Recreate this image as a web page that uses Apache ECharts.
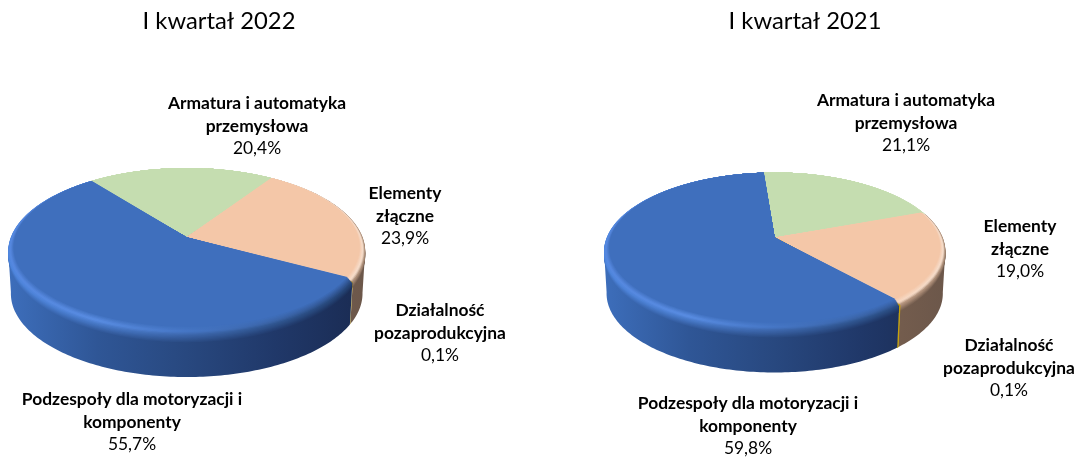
<!DOCTYPE html>
<html><head><meta charset="utf-8">
<style>html,body{margin:0;padding:0;background:#fff}#c{width:1080px;height:459px}</style>
<script src="https://cdn.jsdelivr.net/npm/echarts@6/dist/echarts.min.js"></script>
</head><body><div id="c"></div>
<script>
const categories = ['Armatura i automatyka\nprzemysłowa', 'Elementy\nzłączne', 'Działalność\npozaprodukcyjna', 'Podzespoły dla motoryzacji i\nkomponenty'];
const values2022 = [20.4, 23.9, 0.1, 55.7];
const values2021 = [21.1, 19.0, 0.1, 59.8];
const titles = ['I kwartał 2022', 'I kwartał 2021'];

const FONT = 'Lato, Carlito, sans-serif';
const LABEL_SIZE = 17.4;
const faceColors = ['#c5ddb0', '#f4c7a8', '#c9a400', '#3f6fbd'];
const crestStops = [
  ['#c9dfb5', '#c9dfb5', '#c9dfb5', '#c9dfb5', '#c9dfb5'],
  ['#f5d0b6', '#f5d0b6', '#f5d0b6', '#f6d4bc', '#f7e0cf'],
  ['#c9a400', '#c9a400', '#c9a400', '#c9a400', '#c9a400'],
  ['#5688e0', '#5a8ee4', '#4677c6', '#3b65a9', '#2c4e88']
];
const edgeStops = [
  ['#c5ddb0', '#c5ddb0', '#c5ddb0', '#c5ddb0', '#c5ddb0'],
  ['#e0b89c', '#e0b89c', '#d8b196', '#c4a08a', '#a88a74'],
  ['#c9a400', '#c9a400', '#c9a400', '#c9a400', '#c9a400'],
  ['#4f86de', '#4a7ccc', '#3d68ae', '#2f5590', '#22406f']
];
const sideStops = [
  ['#9db08a', '#9db08a', '#9db08a', '#9db08a', '#9db08a'],
  ['#8f7059', '#8f7059', '#8f7059', '#7a6150', '#6c574a'],
  ['#a58a10', '#a58a10', '#a58a10', '#a58a10', '#a58a10'],
  ['#3d6ebb', '#2f5696', '#28487f', '#203869', '#1a2b52']
];
const pies = [
  { values: values2022, cx: 186.7, top: 168, rx: 178.5, ry: 83.5, d: 0.17, start: -39, thick: 42, thin: 0,
    labels: [[257, 103], [405, 193], [440, 310], [132, 399]] },
  { values: values2021, cx: 774.7, top: 172.5, rx: 170.7, ry: 79, d: 0.177, start: -4.5, thick: 42, thin: 0.9,
    labels: [[906, 100], [1020, 226], [1009, 345], [748, 403]] }
];
const RING_STEPS = 14;
const CREST_T = 0.35;

function project(p, deg) {
  const a = deg * Math.PI / 180, u = Math.sin(a), v = -Math.cos(a);
  const den = 1 - p.d * v;
  return { x: u * Math.sqrt(1 - p.d * p.d) / den, y: (v - p.d) / den };
}
function rimPoint(p, deg, t) {
  const q = project(p, deg);
  return [p.cx + q.x * p.rx * (1 - 0.03 * Math.max(t, 0)), p.top + (q.y + 1) * p.ry * (1 - 0.05 * t)];
}
function lerpHex(a, b, t) {
  const pa = parseInt(a.slice(1), 16), pb = parseInt(b.slice(1), 16);
  const c = s => Math.round(((pa >> s) & 255) * (1 - t) + ((pb >> s) & 255) * t);
  const h = n => n.toString(16).padStart(2, '0');
  return '#' + h(c(16)) + h(c(8)) + h(c(0));
}
function grad(p, cols) {
  return { type: 'linear', global: true, x: p.cx - p.rx, y: 0, x2: p.cx + p.rx, y2: 0,
    colorStops: cols.map((c, i) => ({ offset: i / (cols.length - 1), color: c })) };
}
function ringColors(i, t) {
  return crestStops[i].map((crest, k) => {
    if (t < 0) return lerpHex(sideStops[i][k], edgeStops[i][k], t + 1);
    if (t < CREST_T) return lerpHex(edgeStops[i][k], crest, t / CREST_T);
    return lerpHex(crest, faceColors[i], (t - CREST_T) / (1 - CREST_T));
  });
}
function range(p, i) {
  const total = p.values.reduce((s, v) => s + v, 0);
  let acc = 0;
  for (let k = 0; k < i; k++) acc += p.values[k];
  return [p.start + acc / total * 360, p.start + (acc + p.values[i]) / total * 360];
}
function makeRender(p) {
  return function (params, api) {
    const i = params.dataIndex, val = api.value(0);
    const [a0, a1] = range(p, i);
    const angs = [];
    const n = Math.max(2, Math.ceil(a1 - a0));
    for (let k = 0; k <= n; k++) angs.push(a0 + (a1 - a0) * k / n);
    const kids = [];
    const isThin = a1 - a0 < 2;
    const thinStyle = isThin && p.thin ? { stroke: faceColors[i], lineWidth: p.thin } : {};
    const vis = angs.filter(a => project(p, a).y >= -0.02);
    if (vis.length > 1) {
      const upper = vis.map(a => rimPoint(p, a, 0));
      const lower = vis.map(a => {
        const q = project(p, a);
        return [p.cx + q.x * p.rx * 0.985, rimPoint(p, a, 0)[1] + p.thick];
      }).reverse();
      kids.push({ type: 'polygon', shape: { points: upper.concat(lower) },
        style: Object.assign({ fill: grad(p, sideStops[i]) }, thinStyle) });
    }
    const apex = [p.cx, p.top + (1 - p.d) * p.ry];
    if (isThin) {
      kids.push({ type: 'polygon', shape: { points: [apex].concat(angs.map(a => rimPoint(p, a, 0))) },
        style: Object.assign({ fill: faceColors[i] }, thinStyle) });
    } else {
      for (let s = 0; s <= RING_STEPS; s++) {
        const t = -1 + 2 * s / RING_STEPS;
        const pts = [apex].concat(angs.map(a => rimPoint(p, a, t)));
        kids.push({ type: 'polygon', shape: { points: pts },
          style: { fill: s === RING_STEPS ? faceColors[i] : grad(p, ringColors(i, t)) } });
      }
    }
    const lines = categories[i].split('\n');
    const [lx, ly] = p.labels[i];
    lines.forEach((ln, k) => kids.push({ type: 'text', z2: 50, style: {
      x: lx, y: ly + k * 23, text: ln, align: 'center', verticalAlign: 'middle',
      fontFamily: FONT, fontWeight: 'bold', fontSize: LABEL_SIZE, fill: '#000' } }));
    kids.push({ type: 'text', z2: 50, style: {
      x: lx, y: ly + lines.length * 22.7, text: val.toFixed(1).replace('.', ',') + '%',
      align: 'center', verticalAlign: 'middle', fontFamily: FONT, fontSize: LABEL_SIZE, fill: '#000' } });
    return { type: 'group', children: kids };
  };
}
const chart = echarts.init(document.getElementById('c'), null, { renderer: 'canvas' });
chart.setOption({
  animation: false,
  backgroundColor: '#fff',
  title: [
    { text: titles[0], left: 219, top: 21, padding: 0, textAlign: 'center', textVerticalAlign: 'middle',
      textStyle: { fontFamily: FONT, fontWeight: 'normal', fontSize: 23.8, color: '#000' } },
    { text: titles[1], left: 805, top: 21, padding: 0, textAlign: 'center', textVerticalAlign: 'middle',
      textStyle: { fontFamily: FONT, fontWeight: 'normal', fontSize: 23.8, color: '#000' } }
  ],
  series: pies.map((p, idx) => ({
    type: 'custom', name: titles[idx], coordinateSystem: 'none', silent: true,
    renderItem: makeRender(p),
    data: p.values.map(v => [v])
  }))
});
</script></body></html>
